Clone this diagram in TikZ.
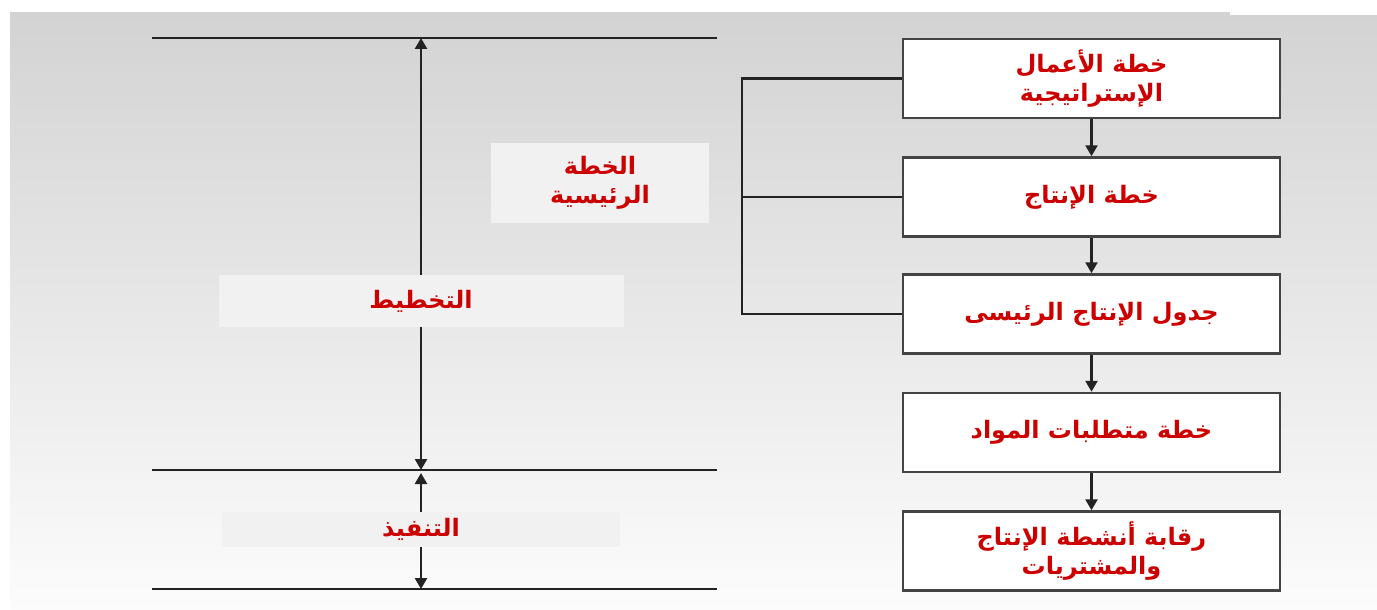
\documentclass[tikz,border=0pt]{standalone}
\usepackage{fontspec}
\newfontfamily\arabicfont[Script=Arabic]{DejaVu Sans}
\TeXXeTstate=1
\usetikzlibrary{arrows.meta}
\definecolor{txtred}{RGB}{204,0,0}
\definecolor{bgtop}{RGB}{211,211,211}
\definecolor{bgbot}{RGB}{252,252,252}
\definecolor{lblfill}{RGB}{241,241,241}
\definecolor{linegray}{RGB}{35,35,35}
\begin{document}
\begin{tikzpicture}[x=1pt,y=-1pt]
 \tikzset{ar/.style={font=\arabicfont\bfseries\fontsize{24}{29}\selectfont, text=txtred, align=center}}
 \tikzset{planbox/.style={ar, draw=linegray!85, line width=2.5pt, fill=white, minimum width=377pt, minimum height=79pt, inner sep=0pt}}
 \tikzset{lblbox/.style={ar, fill=lblfill, inner sep=0pt}}
 \tikzset{directed/.style={line width=2.5pt, draw=linegray, -{Triangle[length=11pt,width=12pt]}}}
  \useasboundingbox (0,0) rectangle (1377,610);
  \fill[white] (0,0) rectangle (1377,610);
  \fill[top color=bgtop, bottom color=bgbot] (10,13) rectangle (1377,610);
  \fill[white] (1230,0) rectangle (1377,15);
  \coordinate (T1) at (152,38);
  \coordinate (T2) at (717,38);
  \coordinate (M1) at (152,470);
  \coordinate (M2) at (717,470);
  \coordinate (U1) at (152,589);
  \coordinate (U2) at (717,589);
  \coordinate (TA) at (421,38);
  \coordinate (MA) at (421,470);
  \coordinate (MB) at (421,473);
  \coordinate (UA) at (421,589);
  \node[lblbox, minimum width=218pt, minimum height=80pt] (MP) at (600,183) {\beginR الخطة\endR\\\beginR الرئيسية\endR};
  \node[lblbox, minimum width=405pt, minimum height=52pt] (PL) at (421,301) {\beginR التخطيط\endR};
  \node[lblbox, minimum width=398pt, minimum height=35pt] (EX) at (421,529.5) {\beginR التنفيذ\endR};
  \node[planbox] (B1) at (1091.5,78.5) {\beginR خطة الأعمال\endR\\\beginR الإستراتيجية\endR};
  \node[planbox] (B2) at (1091.5,197) {\beginR خطة الإنتاج\endR};
  \node[planbox] (B3) at (1091.5,314) {\beginR جدول الإنتاج الرئيسى\endR};
  \node[planbox] (B4) at (1091.5,432.5) {\beginR خطة متطلبات المواد\endR};
  \node[planbox] (B5) at (1091.5,551) {\beginR رقابة أنشطة الإنتاج\endR\\\beginR والمشتريات\endR};
  \draw[line width=2.5pt, linegray] (T1) -- (T2);
  \draw[line width=2.5pt, linegray] (M1) -- (M2);
  \draw[line width=2.5pt, linegray] (U1) -- (U2);
  \draw[directed] (PL.north) -- (TA);
  \draw[directed] (PL.south) -- (MA);
  \draw[directed] (EX.north) -- (MB);
  \draw[directed] (EX.south) -- (UA);
  \draw[directed] (B1) -- (B2);
  \draw[directed] (B2) -- (B3);
  \draw[directed] (B3) -- (B4);
  \draw[directed] (B4) -- (B5);
  \draw[line width=2.5pt, linegray] (B1.west) -- ++(-160,0) |- (B3.west);
  \draw[line width=2.5pt, linegray] (B2.west) -- ++(-160,0);
\end{tikzpicture}
\end{document}
